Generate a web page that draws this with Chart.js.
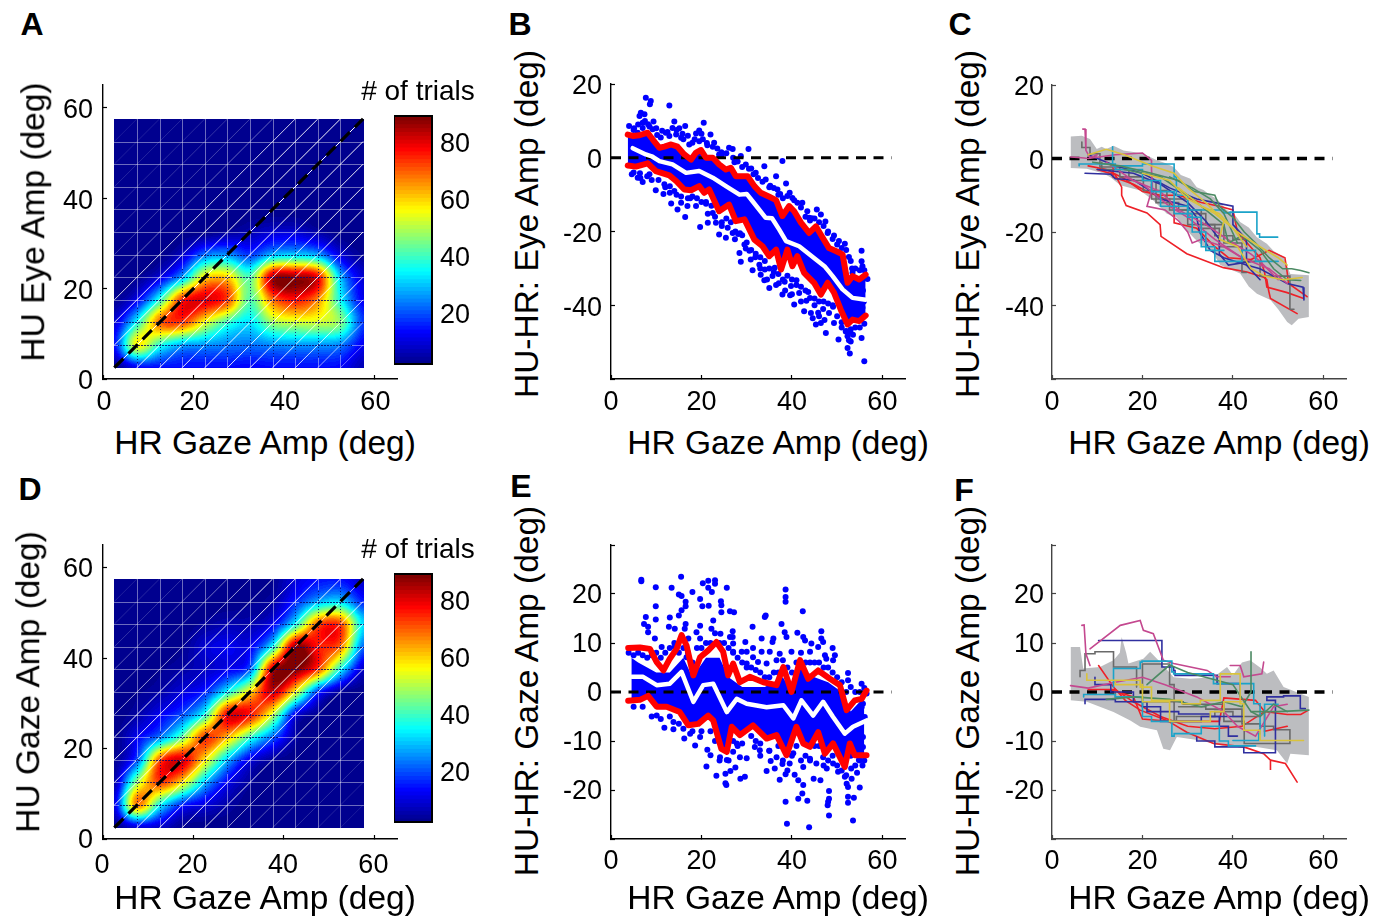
<!DOCTYPE html>
<html>
<head>
<meta charset="utf-8">
<style>
  html, body { margin: 0; background: #fff; }
  #page { position: relative; width: 1385px; height: 916px; overflow: hidden; font-family: "Liberation Sans", Arial, sans-serif; color: #000; }
  canvas { position: absolute; }
  .lbl { position: absolute; white-space: nowrap; transform: translate(-50%, -50%); line-height: 1; }
  .rot { transform: translate(-50%, -50%) rotate(-90deg); }
</style>
<script src="https://cdn.jsdelivr.net/npm/chart.js@4/dist/chart.umd.js"></script>
</head>
<body>
<div id="page"></div>
<script>
// heat maps: rows bottom to top, columns left to right, on the 5 deg mesh
const meshNodes = [2.5, 7.5, 12.5, 17.5, 22.5, 27.5, 32.5, 37.5, 42.5, 47.5, 52.5, 57.5];
const heatA = [
  [2, 12, 14, 14, 14, 14, 13, 14, 14, 14, 13, 6],
  [14, 56, 38, 28, 26, 24, 23, 25, 26, 26, 24, 12],
  [9, 36, 68, 72, 55, 40, 33, 48, 52, 52, 46, 18],
  [3, 12, 38, 74, 80, 72, 42, 68, 76, 66, 36, 12],
  [2, 3, 10, 28, 58, 60, 42, 84, 86, 78, 30, 9],
  [2, 2, 2, 8, 23, 26, 18, 29, 31, 27, 10, 3],
  [2, 2, 2, 2, 2, 4, 6, 9, 9, 5, 2, 2],
  [2, 2, 2, 2, 2, 2, 2, 2, 2, 2, 2, 2],
  [2, 2, 2, 2, 2, 2, 2, 2, 2, 2, 2, 2],
  [2, 2, 2, 2, 2, 2, 2, 2, 2, 2, 2, 2],
  [2, 2, 2, 2, 2, 2, 2, 2, 2, 2, 2, 2],
  [2, 2, 2, 2, 2, 2, 2, 2, 2, 2, 2, 2]
];
const heatD = [
  [2, 9, 8, 3, 2, 2, 2, 2, 2, 2, 2, 2],
  [10, 66, 36, 16, 10, 5, 2, 2, 2, 2, 2, 2],
  [5, 48, 72, 58, 30, 12, 4, 2, 2, 2, 2, 2],
  [3, 20, 70, 80, 58, 30, 11, 4, 2, 2, 2, 2],
  [2, 12, 24, 44, 72, 62, 40, 22, 5, 2, 2, 2],
  [2, 5, 12, 20, 38, 78, 76, 52, 12, 3, 2, 2],
  [2, 3, 5, 10, 16, 36, 58, 82, 56, 18, 4, 2],
  [2, 2, 3, 5, 8, 12, 22, 82, 88, 72, 36, 8],
  [2, 2, 2, 3, 9, 12, 12, 36, 86, 76, 68, 22],
  [2, 2, 2, 2, 4, 6, 6, 12, 36, 70, 72, 32],
  [2, 2, 2, 2, 2, 2, 3, 5, 16, 28, 32, 16],
  [2, 2, 2, 2, 2, 2, 2, 3, 10, 14, 14, 8]
];
// white level of each mesh diagonal, from lower right (d=-50) to upper left (d=+50)
const diagAlphaA = [.4, .6, .8, .85, .9, .9, .9, .9, .9, .95, 1, .95, .9, .8, .4, .25, .2, .16, .14, .12, .1];
const diagAlphaD = [.1, .14, .18, .3, .35, .6, .85, .9, .9, .9, .6, .9, .9, .9, .9, .6, .45, .35, .2, .15, .12];
const barTicks = [20, 40, 60, 80];

// panel B
const bUpper = [[3.7,6.3],[4.8,5.9],[6.3,6.1],[8.1,6.8],[9.2,5],[10.7,2.7],[11.8,3],[13.3,3.6],[14.7,3],[16.2,.9],[17.7,-.5],[18.8,1.4],[19.9,2.1],[21,0],[22.5,0],[23.9,-1.8],[25.4,-3.2],[26.5,-2.7],[27.6,-5],[29.1,-5],[30.2,-5],[31.7,-7.7],[33.1,-9.5],[35,-10.6],[36.5,-11.5],[37.9,-15.8],[39.4,-13.1],[40.5,-14.5],[42,-17.6],[43.8,-20.4],[45.3,-18.6],[46.8,-21.7],[48.2,-24.5],[49.7,-25.3],[51.2,-26.2],[52.3,-33.9],[53.4,-32.1],[54.9,-33],[56.3,-31.7]];
const bLower = [[3.7,-2.1],[5.5,-2.4],[8.1,-1.5],[9.9,-3.6],[12.9,-4.8],[14.4,-6.3],[16.2,-8.6],[17.7,-8.8],[19.5,-7.7],[20.6,-9.5],[21.7,-8.6],[23.9,-14.5],[26.1,-12.7],[27.6,-17.2],[29.5,-16.7],[31.7,-22.2],[33.5,-24],[35,-26.7],[36.5,-24.9],[37.6,-30.3],[39,-24.9],[40.1,-29.4],[41.2,-26.7],[42.7,-31.2],[44.9,-33.9],[46.4,-37.1],[47.9,-33.9],[49.3,-36.6],[50.8,-41.2],[52.3,-45.2],[53.4,-43.9],[54.9,-44.3],[56.3,-42.8]];
const bMean = [[4.8,2.6],[7.7,.9],[9,.4],[10.7,-.9],[13.6,-1.8],[16.6,-4.1],[19.5,-3.6],[22.5,-5.4],[25.4,-7.7],[28.4,-10],[30,-9.8],[31.3,-11.8],[34.2,-16.3],[35.6,-16.4],[37.2,-19.5],[38.7,-22.6],[41.6,-24],[45.3,-27.6],[47.2,-29.4],[49,-32.1],[51.2,-35.7],[53.4,-38],[56.3,-38.5]];
const bDots = [[7.7,16.3],[8.8,15.4],[8.6,14.5],[12.9,14.2],[6.6,12.2],[7.4,11.8],[6.3,11.3],[7,9.5],[9.4,9.8],[4,8.6],[14,9.8],[13.6,8.1],[15.1,8],[16.4,8.6],[20.5,9.5],[19.5,7.4],[18.8,6.6],[22,6.3],[11.3,7.3],[9.2,7.7],[7,8.1],[5.9,6.8],[12.9,5.9],[14.4,6.3],[15.5,5.4],[17.3,3.6],[18,4.1],[19.5,4.5],[20.3,5],[22.8,4.1],[23.9,.9],[26.1,2.7],[26.9,2.4],[30.4,2.4],[28.7,.5],[29.8,-1.8],[32,-4.1],[33.9,-2.3],[37.9,-.9],[34.2,-5.9],[36.5,-5],[38.7,-7],[36.8,-8.6],[40.1,-10.9],[41.2,-12.2],[42.3,-12.2],[43.4,-14.5],[45.5,-14],[43.8,-16.3],[46.4,-15.4],[47.9,-20.4],[50.4,-22.6],[51.7,-23.3],[55.4,-25.2],[55.4,-28.1],[55.6,-29.4],[56.7,-32.9],[53.4,-31.2],[7,-6.6],[5.9,-5.4],[9.9,-8.8],[11.6,-9.8],[13.3,-12.4],[14.7,-14],[16.4,-16.1],[19.7,-18.8],[21.4,-17.6],[21.4,-15.2],[23.9,-20.8],[25.4,-21.7],[28.4,-25.8],[28.7,-28.2],[29.8,-24.6],[31.3,-30.5],[33.9,-33.2],[35,-35.3],[37.9,-37.1],[40.5,-39.8],[42.7,-41.6],[44.2,-42.1],[45.3,-45.2],[47.5,-47.5],[50.3,-49.3],[49.3,-44.8],[52.3,-51.6],[52.8,-53.1],[55.4,-48.9],[56,-55.2],[52.3,-48.4],[53,-49.8],[55.6,-40.7],[55.2,-43],[46.4,-44.8],[48.2,-42.1],[51.9,-47.1],[41.6,-36.7],[39.8,-34.8],[35.7,-32.1],[32.8,-29],[30.9,-27.6],[29.5,-23.5],[26.9,-20.4],[23.2,-17.6],[18.8,-13.1],[16.9,-13.1],[15.5,-12.2],[14,-9],[11.8,-7.2],[22.2,-13],[24.5,-18.5],[27.4,-22.1],[25.8,-19],[30.6,-25.2],[34,-30.3],[36.2,-29.8],[38.4,-33.6],[41,-33.2],[43.6,-36.4],[45,-38.2],[46.9,-41],[49.1,-40.4],[51,-44.6],[52.9,-47.2],[43.2,-38.8],[39.6,-37.3],[37.1,-34],[33.1,-31.7],[31.9,-27],[28.1,-20.7],[21,-12.5],[17.5,-11],[13,-7.7],[8.5,-4.5],[6.4,-4.2],[4.6,-4.5],[5.1,8],[8.2,9.1],[10.2,6.2],[12.1,6.8],[16,5],[21.3,3.4],[24.4,1.5],[27.3,-1.2],[31,-2.9],[35.2,-7.6],[37.4,-9.8],[39,-10.4],[44.4,-16.4],[47.4,-17.3],[49.3,-21.1],[52.6,-26.9],[55.7,-36],[54.1,-38.2],[55.9,-39],[54.6,-35.6],
  [5,7.5],[6,9],[7.5,10],[8.5,8.5],[10,8],[11,5.5],[12.5,7],[14.5,7.5],[15.8,6.5],[17,6],[18.5,5],[20,6.5],[21.2,4],[22.5,3],[23.5,2.5],[24.5,.8],[25.5,1.2],[27,0],[28,-1],[29,-2.5],[30.5,-3],[31.5,-4.5],[32.5,-5.5],[33.5,-6.5],[35,-8],[36,-8.2],[37,-10],[38,-11],[39.5,-9.5],[40.5,-11.5],[42,-13.5],[43,-16],[44,-17],[45,-16.5],[46,-17.5],[47,-18.5],[48,-20],[49,-22],[50,-23.5],[51,-24.5],[52,-25],[53,-28],[54,-30],[55,-30.5],[56,-30.5],[53.3,-30],
  [5,-4],[6.5,-5.5],[8,-5],[9,-6],[10.5,-6],[12,-8],[13,-9.5],[14.5,-10],[15.5,-10.5],[17,-11],[18,-10.5],[19,-11],[20,-12],[21,-12],[22.5,-15],[23,-16],[24.5,-17.5],[25.5,-16.5],[26.5,-17.5],[27.5,-20],[28.5,-20.5],[29,-21],[30,-23],[31,-25],[32,-26],[33,-27],[34,-28],[35,-30],[36,-31],[37,-31.5],[38,-33],[39,-32],[40,-33],[41,-34.5],[42,-35],[43,-36],[44,-38],[45,-40],[46,-39],[47,-39],[48,-39.5],[49,-40],[50,-43],[51,-46],[52,-47],[53,-46.5],[54,-46],[55,-46],[56,-45],[53.5,-48],[52.6,-49.5],[46,-43],[44.6,-43.5],[45.8,-42],[47.2,-44],[42,-39],[40,-37],[38.5,-36],[36.5,-34.5],[34.5,-33],[33,-30]];

// panel E
const eUpper = [[3.8,9],[6.4,9.1],[8.6,8.8],[10.1,6.1],[11.6,4.4],[13,6.8],[14.5,8.8],[15.6,11.6],[16.7,9.5],[18.2,3.4],[19.7,7.1],[21.5,8.5],[23.3,10.2],[24.8,8.2],[25.9,3.4],[27,5.8],[28.5,2],[30.7,3.1],[33.7,2],[36.6,1.4],[38.1,5.1],[39.9,0],[41.8,6.5],[43.6,2.7],[45.8,4.4],[48.4,2.7],[50.6,1.4],[52.1,-3.7],[53.9,-1.7],[55.4,-1.4],[56.5,.3]];
const eLower = [[3.8,-1.8],[6.4,-1.6],[8.2,-.8],[10.1,-3],[12.3,-3],[15.2,-4.1],[17.1,-6.8],[19.3,-6.5],[21.5,-4.8],[22.6,-5.8],[24.4,-11.6],[25.6,-12.2],[26.7,-7.1],[28.5,-8.8],[31.4,-6.8],[34.4,-9.5],[36.6,-8.8],[38.8,-12.9],[41,-7.1],[42.5,-10.5],[44,-11.2],[45.8,-8.2],[47.3,-12.6],[49.1,-10.5],[50.6,-13.3],[51.7,-15.3],[52.8,-10.5],[53.9,-12.9],[56.5,-12.9]];
const eMean = [[4.6,3.1],[7.1,3.1],[10.1,1.4],[13,1.7],[15.6,4.1],[18.2,-2],[20.4,1.4],[22.6,1.7],[25.6,-4.1],[27.8,-1.4],[30,-2.4],[34.4,-3.1],[38.1,-2.7],[40.3,-5.4],[42.1,-1.7],[44.7,-4.8],[46.9,-2],[49.1,-5.1],[51.7,-8.5],[53.5,-7.1],[56.5,-5.8]];
const eCoreTop = [[4.5,7],[6,6],[10,4],[13,4],[16,7],[18,3],[21,7],[24,7],[26,3],[29,1],[34,1],[38,3],[40,0],[42,5],[45,3],[48,2],[51,0],[53,-4],[55,-2],[56,-1]];
const eDots = [[6.7,22.9],[6.7,22.6],[9.9,21.4],[13.4,21.3],[15.5,23.5],[15,19.9],[15.6,19.6],[18,20.4],[19.7,19],[20.3,22.2],[21.5,22.7],[23,22.8],[23,22.1],[25.6,21.3],[21.5,21.3],[22.3,20.4],[20.2,17.5],[21.6,17.6],[24.3,18.5],[24.4,17.7],[24.4,16.3],[26.3,16.5],[27.2,16.3],[16.5,18.4],[16.5,17.5],[15.6,16.7],[15,15.6],[9.9,17.5],[7.7,15.3],[9.9,14.8],[13,15.2],[7.3,13.9],[8.2,13.3],[8.2,12.2],[9.7,10.9],[12.8,13.3],[14.1,12.9],[16.5,13.9],[16.3,12.9],[19.7,13.5],[22.6,14.6],[22.2,12.9],[18.9,12.2],[19.7,10.9],[17.1,10.9],[11.2,9.2],[14.1,9.2],[24.2,11.9],[26.9,12.4],[26.9,11.2],[26.3,11.2],[27,9.9],[29.7,10.2],[31.3,13.3],[34,15.3],[34.2,15.6],[33.3,10.9],[35.9,10.9],[35.7,10.2],[37.7,13.9],[38.6,20.9],[38.6,19.4],[38.6,18.4],[42.4,16.5],[38.4,12.2],[38.8,11.2],[41.2,12.1],[42.5,11.2],[42.9,10.5],[46.5,12.4],[46.5,10.9],[46.9,10.2],[49,9],[49.5,7.5],[52.4,3.9],[52.4,2.4],[55.4,1.7],[28.9,8.2],[30,8.2],[31.4,9],[35.1,8.2],[33.3,8.2],[37.3,7.8],[39.9,8.2],[44.3,9.9],[45.8,9.2],[44,8.2],[47.3,7.5],[31.4,7.1],[34.4,5.8],[30,5.8],[32.5,6.1],[36.6,6.5],[49.1,6.5],[47.6,6.8],[27,8.2],[16.7,7.1],[3.9,8],[11.8,-7.3],[13.8,-7.6],[16.2,-9.5],[18.6,-10.9],[21.1,-15.2],[21.3,-11.8],[22,-12.9],[23.3,-17.1],[25.3,-16.7],[25.5,-19],[25.3,-18.6],[26.4,-16.1],[27.5,-15.4],[29.6,-17.3],[28.6,-17.7],[25.6,-13.9],[28.5,-13.3],[30,-13.5],[27,-12.2],[27.8,-10.5],[31.8,-11.2],[34.4,-16.1],[35.3,-14.1],[36.2,-15.6],[37.3,-17.9],[38.6,-16.8],[38.6,-22.4],[38.9,-26.9],[41.4,-21.8],[42.3,-20.7],[42.5,-19],[43.4,-22.2],[43.8,-27.6],[41.4,-18],[40.6,-16.9],[44.8,-17.7],[46.3,-18],[48.2,-20.2],[48.2,-21.8],[47.9,-23.1],[48.2,-25.2],[48,-22.4],[52.4,-22.6],[53.7,-21.6],[53.5,-26.2],[55,-19.5],[54.4,-16.5],[55.6,-15],[52.4,-21.4],[52.4,-19.4],[53.2,-17.7],[55.7,-11.2],[55.7,-9.2],[56.1,-5.1],[55.4,-3.1],[56.5,-.3],[55.7,-2.4],[54.9,-5.8],[39.5,-14.6],[42.5,-15.3],[45.4,-14.6],[49.1,-14.6],[46.9,-13.3],[51.7,-17.3],[52.1,-18.7],[36.6,-13.3],[32.9,-11.9],[19.7,-9.2],[24.1,-13.3],[17.5,-8.5],[13.8,-6.1],[10.1,-4.8],[33,-13],[35,-12],[37.9,-14.7],[40.3,-12.5],[44,-13.6],[47.7,-15.6],[50.2,-16.3],[53.1,-15.6],[54.8,-13.9],
  [5,7.5],[6,8],[7,7.5],[8,7],[9,7.5],[10,8],[11,7],[12,8],[13,9],[14,10],[15,8],[16,9],[17,8],[18,6],[19,9],[20,9],[21,10],[22,10],[23,12],[24,10],[25,10],[26,9],[27,8],[28,7],[29,6],[30,5],[31,5],[32,4.5],[33,4],[34,3],[35,3],[36,4],[37,4],[38,6.5],[39,5],[40,4],[41,6],[42,8],[43,6],[44,6],[45,6],[46,6],[47,5],[48,5],[49,4],[50,3],[51,2],[52,0],[53,1],[54,0],[55,0],[56,.8],
  [5,-3],[7,-3],[9,-5],[11,-5.5],[13,-5],[15,-6.5],[16,-7.5],[18,-8],[20,-8],[22,-8],[23,-10],[24,-14],[26,-14],[27,-10],[28,-11],[29,-10.5],[31,-9],[32,-10],[33,-10.5],[35,-12],[37,-11],[38,-14],[39,-16],[40,-13],[41,-11],[42,-14],[43,-13],[44,-14],[45,-11],[46,-11],[47,-15],[48,-14],[49,-13],[50,-15],[51,-16],[52,-17],[53,-13],[54,-15],[55,-14],[56,-14]];

// panel C and F: grey spread
const cSpreadTop = [[4.1,6],[6.6,6.2],[8.4,5.3],[9.9,2.6],[11,3.2],[12,2.6],[13.6,3.5],[15.8,2.2],[18,1.8],[20.2,1.3],[23.2,-.5],[25,-1.2],[26.9,-2.3],[28.5,-4.5],[30.6,-5.5],[32,-7.8],[33.5,-8.6],[35,-10],[36.5,-11],[38.7,-14.1],[40,-14.6],[41.6,-17.3],[43.5,-18.8],[45.3,-21.4],[47.5,-23.2],[49,-25.2],[51.2,-26.8],[52.7,-31.4],[56.8,-31.8]];
const cSpreadLow = [[4.1,-2.6],[7.7,-2.8],[11.4,-4.1],[13,-5.2],[15.1,-7.3],[19.5,-8.7],[22.4,-11.4],[25.4,-15],[27.5,-16],[29.8,-19.5],[31.5,-21.8],[33.5,-24],[35.5,-25.6],[37.2,-29],[41.6,-31.3],[43.5,-34.8],[45.3,-36.8],[48.3,-38.5],[50,-41],[52,-44.5],[53,-45.4],[54.5,-43.6],[56.8,-43.1]];
const fSpreadTop = [[4.1,9.2],[6.2,9.2],[6.9,4.8],[10.6,5.1],[13.6,6.5],[15,8],[15.4,11.2],[16.4,8],[16.9,5.8],[20.2,6.8],[21.7,8.2],[23.9,6.1],[26.9,3],[30.6,2.7],[35.7,3],[38.7,5.1],[40,3.4],[42,6],[43.8,6.5],[46,5],[47.5,3.7],[49,4.4],[51.2,1],[56.8,-1]];
const fSpreadLow = [[4.1,-1.7],[7.7,-2],[13.6,-4.1],[17.3,-5.8],[19.5,-7.1],[23.2,-7.8],[24.6,-11.6],[26.1,-11.9],[27.6,-9.2],[32.8,-9.9],[38.7,-11.2],[45.3,-11.2],[49.7,-11.9],[52,-14.6],[52.7,-12.6],[56.8,-12.9]];

// single subject traces, one list per colour
const cRed = [
  [[10,-3],[14,-4.5],[15.4,-7.8],[15.4,-10],[16.4,-12.8],[21,-14.8],[23.9,-18],[24.1,-21.2],[29.8,-25.9],[37.9,-29.7],[43.1,-30.9],[46.8,-32.3],[47.5,-33],[47.9,-36],[48.3,-38.1],[54.2,-42.2]],
  [[13.5,-2],[13.5,-5],[18,-7],[21,-9],[25,-11],[27,-13],[27,-17.5],[32,-19],[36,-24],[39,-27],[44,-27.5],[48,-25],[51.5,-27],[52,-31],[52.3,-34],[56.4,-37.6]],
  [[8,-2],[12,-3],[16,-5.5],[20,-9],[24,-10],[28,-10],[33,-12],[37,-13],[40,-14],[41,-20],[46,-27],[47,-31],[47.5,-35],[52,-36.5],[55.5,-38]]
];
const cBlue = [
  [[7.3,-4],[13,-4.3],[14,-5.5],[18,-5.8],[22,-9],[24,-11],[30,-13],[32,-16],[32.6,-20],[35,-25],[38,-27],[43,-29],[46,-30],[49,-32],[52,-34],[55.5,-35],[55.7,-38.5]],
  [[8,1],[14,-2],[20,-4],[26,-8],[32,-11],[36,-12],[40,-13],[40,-18],[43,-22],[43,-29],[46,-33]],
  [[10,-3],[18,-4],[24,-7],[30,-12],[34,-17],[37,-22],[37,-26],[39,-29],[44,-28]]
];
const cGreen = [
  [[9,-1],[15,-2],[22,-4],[28,-6],[31.5,-9],[36,-10],[37,-13],[40,-16],[42.5,-20],[45,-23],[48,-27],[51,-30],[53,-30],[55,-30.5],[56.8,-31.1]],
  [[16,-3],[24,-5],[30,-10],[35,-15],[38,-18],[39,-23],[42,-21],[46,-25],[49,-30],[52,-33],[55,-33.2]],
  [[26,-5],[31,-8],[35,-11],[38,-15],[41,-23]]
];
const cPink = [
  [[6.8,8],[7.3,8],[7.5,2.2],[8.4,.2],[10,1]],
  [[4.1,.4],[6.5,.2],[8,0],[14,1],[20,1.5],[22,-.5],[22,-3],[22.2,-8],[21,-13],[25,-14],[28,-17],[30,-20],[31,-23],[33,-22],[38,-24],[42,-27],[48,-30],[52,-34]],
  [[12,-1],[18,-6],[24,-9],[28,-14],[34,-18],[40,-23],[44,-26],[46,-28],[50,-33]],
  [[16,-5],[20,-7],[26,-13],[30,-16],[36,-22],[42,-27]]
];
const cCyan = [
  [[13.4,3.2],[13.4,-1],[20,-2],[27,-1.5],[27.5,-5],[30,-10],[38,-14],[39.4,-14.8],[45.3,-14.6],[45.9,-20.5],[49.9,-21.4]],
  [[6,-2],[14,-1.5],[20,-3],[24,-6],[30,-13],[33,-16],[36,-24],[39,-28],[42,-28],[45,-25],[50,-28]],
  [[22,-6],[27,-9],[31,-15],[34,-20],[38,-25]]
];
const cYellow = [
  [[8,1],[12,2.5],[16,1],[22,-2],[27,-4],[30,-8],[34,-12],[38,-17],[37,-22],[41,-24],[44,-30],[47,-32],[51,-33],[55.3,-32.4]],
  [[20,-4],[26,-6],[30,-11],[36,-15],[41,-20],[46,-24],[50,-27],[52,-29]],
  [[28,-8],[33,-13],[37,-15],[40,-19],[43,-24]]
];
const cGrey = [
  [[6.6,4.5],[8.4,3],[10.6,1.3],[15,-2.3],[20.2,-5],[25.4,-8.7],[30,-11],[34,-15],[38,-18],[42,-23],[46,-28],[52.6,-32],[52.6,-40.8],[53.5,-41]],
  [[11,-1],[17,-3],[23,-6],[28,-12],[33,-14],[37,-19],[42,-24],[43,-31]],
  [[22,-7],[26,-11],[30,-14],[36,-18],[40,-21],[43.5,-22]]
];
const fRed = [
  [[10.3,5.4],[13.6,1],[16.2,-1.7],[19.5,-3.7],[25.4,-5.8],[29.8,-8.2],[35.7,-10.5],[42.4,-11.2],[46.8,-12.6],[48.3,-13.9],[48.3,-15.9],[48.3,-13.9],[51.6,-14.6],[54.2,-18.4]],
  [[13,.5],[18,-1],[20,-5.5],[26,-6],[33,-6],[37,-6],[38,-1.2],[45,-1.7],[47,-4],[52,-4.6],[55,-4.6],[56.5,-3.8]],
  [[8,.5],[14,.5],[18,-2],[24,-5],[30,-7],[36,-7.5],[42,-7],[47,-4],[47,-8],[52,-7]]
];
const fBlue = [
  [[10.3,10.5],[24.3,10.5],[24.3,5.4],[26.9,5.1],[27.2,4.4],[36.5,3.4],[41.6,1.7],[41.6,-1]],
  [[7.3,-2.4],[14,-1.5],[20,-2],[24,-3],[25,-6],[33,-6],[37,-5],[39,-7],[41,-9]],
  [[32,-9.2],[36,-10],[42.4,-11.2],[49.4,-12.4],[49.4,-10.5],[47.5,-1.7],[51.2,-1],[54.9,-.8],[56,-3.4]],
  [[9.5,3],[13,1.5],[18,0],[21,-2],[28,-4],[35,-4.5],[42,-5]]
];
const fGreen = [
  [[44,8.2],[44,0],[42,-3],[38,-2],[33,-3],[26,-1.5],[18,-1],[12,-1.5]],
  [[21,1.5],[26,5.5],[30,4],[36,2.5],[40,1.5],[44,-4],[50,-4],[56.8,-3.7]],
  [[44,-4],[46,-5],[49,-2.5],[52,-4]]
];
const fPink = [
  [[6.6,13.6],[7.1,13.7],[7.5,7.8],[8.4,5.4]],
  [[8.4,8.8],[15.1,13.6],[19.5,14.6],[20.2,12.6],[22.4,11.9],[24.6,6.5],[26.9,5.8],[34.3,4.4],[36.5,3.1],[39.4,3.1]],
  [[39.4,5.4],[41.6,5.4],[42.4,3.1],[46.4,3.7],[46.8,6.1]],
  [[4.1,1.3],[8,.8],[14,2],[20,3],[25,1.5],[32,-1],[38,-4],[41,-7],[45,-9],[49,-3],[52,-2.5]]
];
const fCyan = [
  [[13.6,1],[13.6,4.8],[19.5,4.8],[19.9,6.1],[26.5,6.3],[26.9,4.1],[35.7,3.7],[44.6,1.7],[46,-2.4],[45.7,-8.5],[40,-9.9]],
  [[7,-1],[14,-.5],[20,-1],[22,-5],[26.5,-6],[27,-9],[33,-8.5],[37,-7],[39,-10],[45,-11]],
  [[47,-9],[48,-2.5],[50,-2.5]]
];
const fYellow = [
  [[7.7,3.7],[19.5,2.4],[22,1],[28.7,-1.7],[32.8,-2.4],[37.2,-1.7],[38.7,3.7],[41.6,3.7],[42.4,-2.4],[46,-7.8],[55.6,-9.9]],
  [[14,2],[20,1.5],[26,-2],[29,-6],[35,-6],[38,-4],[42,-2]]
];
const fGrey = [
  [[6.2,3.1],[7.3,4.4],[9.5,7.8],[13.6,8.2],[16.9,5.1],[18.7,5.1],[18.7,1]],
  [[20,0],[20,5.7],[26,5.7],[27,1.5],[29,-2],[38,-2.5],[42.5,-6],[42.5,-10.2],[52.6,-10.5],[52.6,-7.7],[49,-7.7],[46,-7],[42,-6.5],[34,-3.5],[28,-3]],
  [[14,0],[20,-1],[27,-2],[27.5,-6],[36,-5],[40,-4],[46,-5]]
];

const jetStops = [[0, 0, 0, 143], [.125, 0, 0, 255], [.375, 0, 255, 255], [.625, 255, 255, 0], [.875, 255, 0, 0], [1, 128, 0, 0]];
const cMin = 2, cMax = 89;

function jet(v) {
  let t = (v - cMin) / (cMax - cMin);
  t = Math.max(0, Math.min(1, t));
  t = Math.floor(t * 63.999) / 63;   // matlab jet has 64 steps
  for (let i = 1; i < jetStops.length; i++) {
    if (t <= jetStops[i][0]) {
      const a = jetStops[i - 1], b = jetStops[i], f = (t - a[0]) / (b[0] - a[0]);
      return `rgb(${Math.round(a[1] + (b[1] - a[1]) * f)},${Math.round(a[2] + (b[2] - a[2]) * f)},${Math.round(a[3] + (b[3] - a[3]) * f)})`;
    }
  }
  return 'rgb(128,0,0)';
}

function cubic(a, b, c, d, t) {
  return b + 0.5 * t * (c - a + t * (2 * a - 5 * b + 4 * c - d + t * (3 * (b - c) + d - a)));
}

// smooth reading of the mesh between its nodes
function heatAt(m, x, y) {
  const fx = Math.max(0, Math.min(10.999, (x - 2.5) / 5)), fy = Math.max(0, Math.min(10.999, (y - 2.5) / 5));
  const ix = Math.floor(fx), iy = Math.floor(fy);
  const cl = i => Math.max(0, Math.min(11, i));
  const rows = [];
  for (let j = -1; j <= 2; j++) {
    const r = m[cl(iy + j)];
    rows.push(cubic(r[cl(ix - 1)], r[ix], r[cl(ix + 1)], r[cl(ix + 2)], fx - ix));
  }
  return cubic(rows[0], rows[1], rows[2], rows[3], fy - iy);
}

function heatPlugin(m, diagAlpha) {
  return {
    id: 'heat',
    beforeDatasetsDraw(chart) {
      const c = chart.ctx, sx = chart.scales.x, sy = chart.scales.y;
      const x0 = sx.getPixelForValue(2.5), x1 = sx.getPixelForValue(57.5);
      const y0 = sy.getPixelForValue(57.5), y1 = sy.getPixelForValue(2.5);
      c.save();
      for (let px = Math.round(x0); px < x1; px++) {
        for (let py = Math.round(y0); py < y1; py++) {
          c.fillStyle = jet(heatAt(m, sx.getValueForPixel(px + .5), sy.getValueForPixel(py + .5)));
          c.fillRect(px, py, 1, 1);
        }
      }
      // triangle mesh of the interpolated surface
      c.lineWidth = 1;
      diagAlpha.forEach((a, i) => {
        const d = (i - 10) * 5;
        const xa = Math.max(2.5, 2.5 - d), xb = Math.min(57.5, 57.5 - d);
        if (xb <= xa) return;
        c.strokeStyle = `rgba(255,255,255,${a})`;
        c.beginPath();
        c.moveTo(sx.getPixelForValue(xa), sy.getPixelForValue(xa + d));
        c.lineTo(sx.getPixelForValue(xb), sy.getPixelForValue(xb + d));
        c.stroke();
      });
      for (const n of meshNodes.slice(1, 11)) {
        const vx = Math.round(sx.getPixelForValue(n)), hy = Math.round(sy.getPixelForValue(n));
        for (let py = Math.round(y0); py < y1; py++) {
          const v = heatAt(m, n, sy.getValueForPixel(py));
          if (v > 18) { if (py % 3 == 0) { c.fillStyle = 'rgba(10,10,110,.85)'; c.fillRect(vx, py, 1, 1); } }
          else { c.fillStyle = 'rgba(255,255,255,.42)'; c.fillRect(vx, py, 1, 1); }
        }
        for (let px = Math.round(x0); px < x1; px++) {
          const v = heatAt(m, sx.getValueForPixel(px), n);
          if (v > 18) { if (px % 3 != 0) { c.fillStyle = 'rgba(10,10,110,.85)'; c.fillRect(px, hy, 1, 1); } }
          else { c.fillStyle = 'rgba(255,255,255,.42)'; c.fillRect(px, hy, 1, 1); }
        }
      }
      c.restore();
    }
  };
}

const barPlugin = {
  id: 'bar',
  beforeDatasetsDraw(chart) {
    const c = chart.ctx, a = chart.chartArea, s = chart.scales.y;
    const step = (cMax - cMin) / 64;
    c.save();
    for (let i = 0; i < 64; i++) {
      const v = cMin + i * step;
      const top = s.getPixelForValue(v + step), bot = s.getPixelForValue(v);
      c.fillStyle = jet(v + step / 2);
      c.fillRect(a.left, top - .5, a.right - a.left, bot - top + 1);
    }
    c.restore();
  },
  afterDatasetsDraw(chart) {
    const c = chart.ctx, a = chart.chartArea;
    c.save();
    c.strokeStyle = '#000';
    c.lineWidth = 2;
    c.strokeRect(a.left, a.top, a.right - a.left, a.bottom - a.top);
    c.restore();
  }
};

const pageEl = document.getElementById('page');
const xy = a => a.map(p => ({ x: p[0], y: p[1] }));

function axis(o) {
  const col = o.color || '#000';
  return {
    type: 'linear', min: o.min, max: o.max, position: o.pos,
    border: { color: col, width: 1.4 },
    grid: { drawOnChartArea: false, tickLength: -4, color: col, tickWidth: 1.2 },
    ticks: {
      stepSize: o.step, includeBounds: false, maxRotation: 0, autoSkip: false,
      padding: o.pad, labelOffset: o.off || 0, color: '#000',
      font: { family: '"Liberation Sans"', size: 27 },
      callback: v => (o.show.includes(v) ? String(v) : '')
    },
    afterFit(s) {
      // fixed box sizes so the plot area lands where it should
      if (o.pos === 'bottom') s.height = 45; else s.width = o.pos === 'left' ? 65 : 50;
      s.paddingTop = s.paddingBottom = s.paddingLeft = s.paddingRight = 0;
    }
  };
}

// pl, pr, pt, pb are the plot box edges on the page
function panel(box, xA, yA, datasets, plugins) {
  const cv = document.createElement('canvas');
  const left = box.pl - 65, top = box.pt - 20;
  const w = box.pr - left + 20, h = box.pb + 45 - top;
  cv.width = w; cv.height = h;
  cv.style.cssText = `left:${left}px;top:${top}px;width:${w}px;height:${h}px`;
  pageEl.appendChild(cv);
  return new Chart(cv, {
    type: 'scatter',
    data: { datasets },
    options: {
      responsive: false, animation: false, devicePixelRatio: 1,
      layout: { padding: { top: 20, right: 20 } },
      plugins: { legend: { display: false }, tooltip: { enabled: false } },
      scales: { x: axis(xA), y: axis(yA) }
    },
    plugins: plugins || []
  });
}

function colorBar(box) {
  const cv = document.createElement('canvas');
  const w = box.pr - box.pl + 50, h = box.pb - box.pt + 40;
  cv.width = w; cv.height = h;
  cv.style.cssText = `left:${box.pl}px;top:${box.pt - 20}px;width:${w}px;height:${h}px`;
  pageEl.appendChild(cv);
  const yA = axis({ min: cMin, max: cMax, step: 20, pos: 'right', pad: 12, off: 3, show: barTicks });
  yA.ticks.stepSize = undefined;
  yA.afterBuildTicks = s => { s.ticks = barTicks.map(v => ({ value: v })); };
  return new Chart(cv, {
    type: 'scatter',
    data: { datasets: [] },
    options: {
      responsive: false, animation: false, devicePixelRatio: 1,
      layout: { padding: { top: 20, bottom: 20 } },
      plugins: { legend: { display: false }, tooltip: { enabled: false } },
      scales: { x: { display: false, min: 0, max: 1 }, y: yA }
    },
    plugins: [barPlugin]
  });
}

function line(data, color, width, order, extra) {
  return Object.assign({ data: xy(data), showLine: true, borderColor: color, borderWidth: width, pointRadius: 0, order, borderJoinStyle: 'round', borderCapStyle: 'round', tension: 0 }, extra || {});
}

const unity = [[2.5, 2.5], [57.5, 57.5]];
const zeroLine = [[0, 0], [62, 0]];
const dashZero = { borderDash: [10, 7.5], borderCapStyle: 'butt' };
const dashUnity = { borderDash: [13, 7], borderCapStyle: 'butt' };
const ampTicks = [0, 20, 40, 60];

function heatPanel(box, m, diag, xPad, xOff, yOff) {
  panel(box,
    { min: 0, max: 65, step: 20, pos: 'bottom', pad: xPad, off: xOff, show: ampTicks },
    { min: 0, max: 65, step: 20, pos: 'left', pad: 14, off: yOff, show: ampTicks },
    [line(unity, '#000', 3.2, 1, dashUnity)],
    [heatPlugin(m, diag)]);
}

function dotsPanel(box, yA, xPad, core, lower, dots, mean, upper) {
  panel(box,
    { min: 0, max: 65, step: 20, pos: 'bottom', pad: xPad, show: ampTicks },
    Object.assign({ pos: 'left', pad: 13 }, yA),
    [
      line(core, 'rgba(0,0,0,0)', 0, 9, { fill: '+1', backgroundColor: '#0000ff' }),
      line(lower, 'rgba(0,0,0,0)', 0, 8),
      { data: xy(dots), pointRadius: 3, pointBackgroundColor: '#0000ff', pointBorderWidth: 0, order: 5 },
      line(zeroLine, '#000', 3, 4, dashZero),
      line(mean, '#fff', 4.5, 3),
      line(upper, '#ff0000', 6, 2),
      line(lower, '#ff0000', 6, 2)
    ]);
}

function tracesPanel(box, yA, xPad, top, low, groups) {
  const ds = [
    line(top, 'rgba(0,0,0,0)', 0, 9, { fill: '+1', backgroundColor: '#bcbdc0' }),
    line(low, 'rgba(0,0,0,0)', 0, 8)
  ];
  ds.push(line(zeroLine, '#000', 3.4, 7, dashZero));
  for (const g of groups) {
    for (const t of g.lines) ds.push(line(t, g.color, 1.6, 5, { stepped: g.step ? 'after' : false, borderJoinStyle: 'miter' }));
  }
  panel(box,
    { min: 0, max: 65, step: 20, pos: 'bottom', pad: xPad, color: '#444', show: ampTicks },
    Object.assign({ pos: 'left', pad: 12, color: '#444' }, yA),
    ds);
}

const yB = { min: -60, max: 20, step: 20, off: 3, show: [20, 0, -20, -40] };
const yE = { min: -30, max: 30, step: 10, off: 2, show: [20, 10, 0, -10, -20] };

heatPanel({ pl: 103, pr: 397, pt: 85, pb: 379 }, heatA, diagAlphaA, 11, 1, 3);
heatPanel({ pl: 103, pr: 397, pt: 545, pb: 839 }, heatD, diagAlphaD, 14, -1, 2);
colorBar({ pl: 394, pr: 432, pt: 116, pb: 364 });
colorBar({ pl: 394, pr: 432, pt: 574, pb: 822 });
dotsPanel({ pl: 611, pr: 905, pt: 84, pb: 379 }, yB, 11, bUpper, bLower, bDots, bMean, bUpper);
dotsPanel({ pl: 611, pr: 905, pt: 545, pb: 839 }, yE, 10, eCoreTop, eLower, eDots, eMean, eUpper);
tracesPanel({ pl: 1052, pr: 1346, pt: 85, pb: 379 }, yB, 11, cSpreadTop, cSpreadLow, [
  { color: '#d9c33c', lines: cYellow, step: false }, { color: '#4c8a63', lines: cGreen, step: false },
  { color: '#1ba3c9', lines: cCyan, step: true }, { color: '#c4488f', lines: cPink, step: false },
  { color: '#2f2f9f', lines: cBlue, step: false }, { color: '#6a6a6a', lines: cGrey, step: true },
  { color: '#ee2027', lines: cRed, step: false }
]);
tracesPanel({ pl: 1052, pr: 1346, pt: 545, pb: 839 }, yE, 10, fSpreadTop, fSpreadLow, [
  { color: '#d9c33c', lines: fYellow, step: true }, { color: '#4c8a63', lines: fGreen, step: false },
  { color: '#1ba3c9', lines: fCyan, step: true }, { color: '#c4488f', lines: fPink, step: false },
  { color: '#2f2f9f', lines: fBlue, step: true }, { color: '#6a6a6a', lines: fGrey, step: true },
  { color: '#ee2027', lines: fRed, step: false }
]);

// panel letters and axis titles
const texts = [
  ['A', 32, 24, 32, 'b'], ['B', 520, 24, 32, 'b'], ['C', 960, 24, 32, 'b'],
  ['D', 30, 489, 32, 'b'], ['E', 521, 486, 32, 'b'], ['F', 964, 490, 32, 'b'],
  ['# of trials', 418, 91, 28], ['# of trials', 418, 549, 28],
  ['HR Gaze Amp (deg)', 265, 443, 33.5], ['HR Gaze Amp (deg)', 778, 443, 33.5], ['HR Gaze Amp (deg)', 1219, 443, 33.5],
  ['HR Gaze Amp (deg)', 265, 898, 33.5], ['HR Gaze Amp (deg)', 778, 898, 33.5], ['HR Gaze Amp (deg)', 1219, 898, 33.5],
  ['HU Eye Amp (deg)', 33, 222, 33.5, 'r'], ['HU-HR: Eye Amp (deg)', 527, 224, 33.5, 'r'], ['HU-HR: Eye Amp (deg)', 968, 224, 33.5, 'r'],
  ['HU Gaze Amp (deg)', 28, 682, 33.5, 'r'], ['HU-HR: Gaze Amp (deg)', 527, 691, 33.5, 'r'], ['HU-HR: Gaze Amp (deg)', 968, 691, 33.5, 'r']
];
for (const t of texts) {
  const el = document.createElement('div');
  el.className = 'lbl' + (t[4] === 'r' ? ' rot' : '');
  el.textContent = t[0];
  el.style.left = t[1] + 'px';
  el.style.top = t[2] + 'px';
  el.style.fontSize = t[3] + 'px';
  if (t[4] === 'b') el.style.fontWeight = 'bold';
  pageEl.appendChild(el);
}
</script>
</body>
</html>
